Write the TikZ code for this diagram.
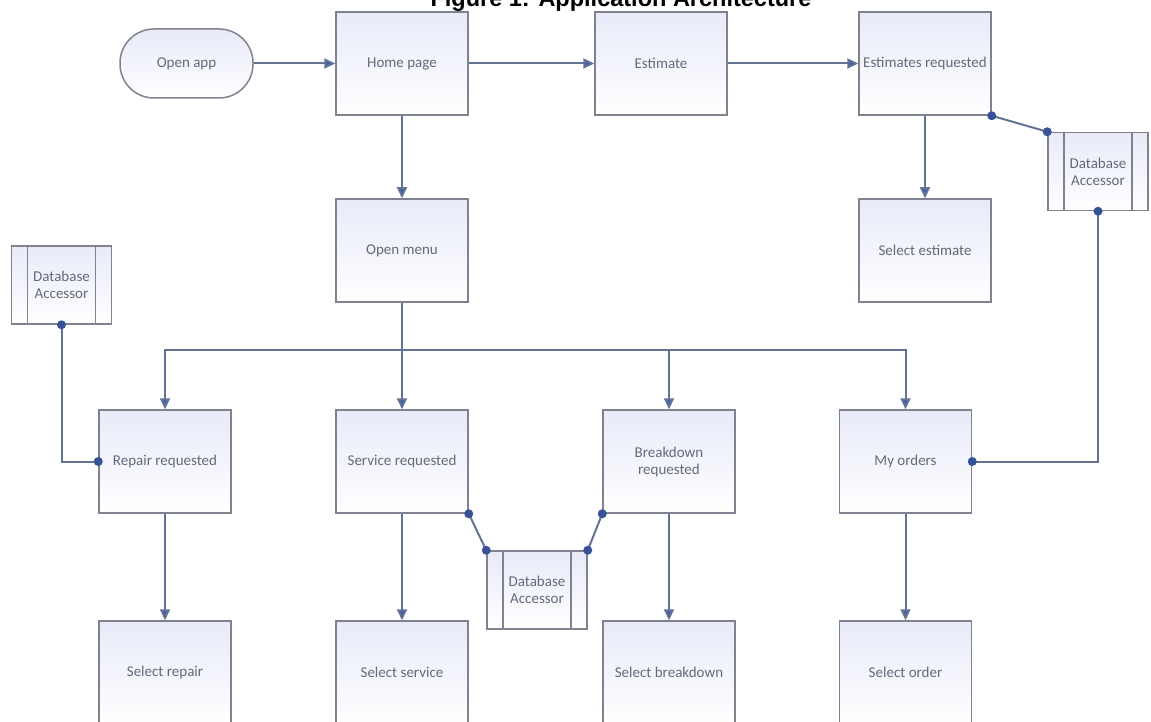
\documentclass[tikz,border=0pt]{standalone}
\usepackage{fontspec}
\setmainfont{Carlito}
\newfontfamily\titlefont{Liberation Sans}
\usetikzlibrary{arrows.meta,calc}

\definecolor{boxline}{RGB}{128,131,143}
\definecolor{conn}{RGB}{100,114,150}
\definecolor{tipblue}{RGB}{62,92,170}
\definecolor{dotblue}{RGB}{55,82,150}
\definecolor{txt}{RGB}{100,106,122}
\definecolor{boxtop}{RGB}{232,234,248}

\tikzset{
  stepbox/.style={draw=boxline, line width=1.5pt, top color=boxtop, bottom color=white,
    minimum width=132pt, minimum height=103pt, inner sep=0pt, text=txt,
    font=\fontsize{15}{17}\selectfont, align=center},
  terminal/.style={stepbox, minimum width=133pt, minimum height=69pt, rounded corners=34pt},
  dbbox/.style={stepbox, minimum width=100pt, minimum height=78pt,
    path picture={\draw[boxline, line width=1.5pt]
      ([xshift=16pt]path picture bounding box.north west) -- ([xshift=16pt]path picture bounding box.south west)
      ([xshift=-16pt]path picture bounding box.north east) -- ([xshift=-16pt]path picture bounding box.south east);}},
  flow/.style={draw=conn, line width=2pt, -{Triangle[length=11pt,width=10pt,fill=tipblue]}},
  link/.style={draw=conn, line width=2pt},
}
\newcommand{\joint}[1]{\fill[dotblue] (#1) circle (4.5pt);}

\begin{document}
\begin{tikzpicture}[x=1pt, y=-1pt]
  \clip (0,0) rectangle (1151,722);
  \useasboundingbox (0,0) rectangle (1151,722);

  % title
  \node[font=\titlefont\bfseries\fontsize{23.5}{28}\selectfont, anchor=base, inner sep=0pt] (title) at (621,7) {Figure 1: Application Architecture};

  % top row
  \node[terminal] (openapp) at (186.5,63.5) {Open app};
  \node[stepbox] (home) at (402,63.5) {Home page};
  \node[stepbox] (estimate) at (661,63.5) {Estimate};
  \node[stepbox] (estreq) at (925,63.5) {Estimates requested};

  % second row
  \node[stepbox] (menu) at (402,250.5) {Open menu};
  \node[stepbox] (selest) at (925,250.5) {Select estimate};

  % database accessors
  \node[dbbox] (dbleft) at (61.5,285) {Database\\Accessor};
  \node[dbbox] (dbright) at (1098,171.5) {Database\\Accessor};
  \node[dbbox] (dbmid) at (537,590) {Database\\Accessor};

  % request row
  \node[stepbox] (repair) at (165,461.5) {Repair requested};
  \node[stepbox] (service) at (402,461.5) {Service requested};
  \node[stepbox] (breakdown) at (669,461.5) {Breakdown\\requested};
  \node[stepbox] (orders) at (905.5,461.5) {My orders};

  % selection row
  \node[stepbox] (selrepair) at (165,672.5) {Select repair};
  \node[stepbox] (selservice) at (402,672.5) {Select service};
  \node[stepbox] (selbreak) at (669,672.5) {Select breakdown};
  \node[stepbox] (selorder) at (905.5,672.5) {Select order};

  % main flow
  \draw[flow] (openapp) -- (home);
  \draw[flow] (home) -- (estimate);
  \draw[flow] (estimate) -- (estreq);
  \draw[flow] (home) -- (menu);
  \draw[flow] (estreq) -- (selest);

  % menu branches
  \coordinate (branch) at (402,350);
  \draw[flow] (menu) -- (service);
  \draw[flow] (branch) -| (repair.north);
  \draw[flow] (branch) -| (breakdown.north);
  \draw[flow] (branch) -| (orders.north);

  \draw[flow] (repair) -- (selrepair);
  \draw[flow] (service) -- (selservice);
  \draw[flow] (breakdown) -- (selbreak);
  \draw[flow] (orders) -- (selorder);

  % database links
  \draw[link] (dbleft.south) |- (repair.west);
  \joint{dbleft.south} \joint{repair.west}
  \draw[link] (dbright.south) |- (orders.east);
  \joint{dbright.south} \joint{orders.east}
  \draw[link] (estreq.south east) -- (dbright.north west);
  \joint{estreq.south east} \joint{dbright.north west}
  \draw[link] (service.south east) -- (dbmid.north west);
  \joint{service.south east} \joint{dbmid.north west}
  \draw[link] (breakdown.south west) -- (dbmid.north east);
  \joint{breakdown.south west} \joint{dbmid.north east}
\end{tikzpicture}
\end{document}
